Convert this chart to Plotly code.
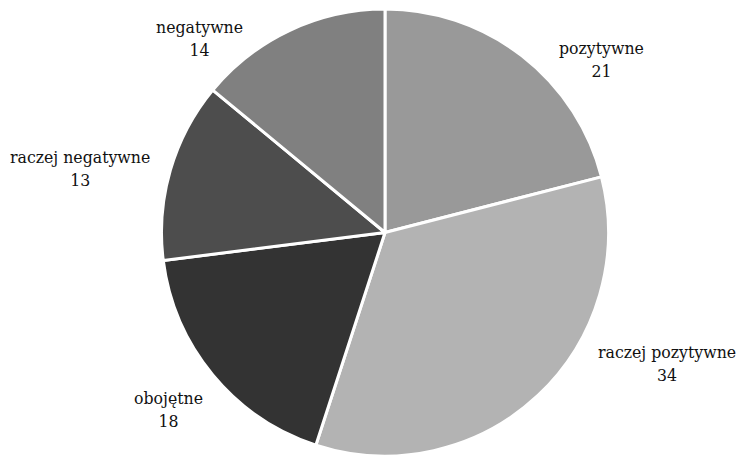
import plotly.graph_objects as go

# Survey answers, drawn clockwise from 12 o'clock
categories = ["pozytywne", "raczej pozytywne", "obojętne", "raczej negatywne", "negatywne"]
values = [21, 34, 18, 13, 14]

# Slice fills (grey scale)
colors = ["#999999", "#b3b3b3", "#333333", "#4d4d4d", "#808080"]

# Label block centres in pixels (x, y from top-left)
label_pos = [(601, 60), (667, 363), (168, 409), (80, 168), (199, 39)]

W, H = 738, 456

fig = go.Figure(
    go.Pie(
        labels=categories,
        values=values,
        sort=False,
        direction="clockwise",
        rotation=0,
        marker=dict(colors=colors, line=dict(color="white", width=3)),
        textinfo="none",
        hoverinfo="label+value",
        showlegend=False,
        domain=dict(x=[(385 - 224) / W, (385 + 224) / W], y=[0, 1 - 9 / H]),
    )
)

for name, val, (px, py) in zip(categories, values, label_pos):
    fig.add_annotation(
        x=px / W,
        y=1 - py / H,
        xref="paper",
        yref="paper",
        xanchor="center",
        yanchor="middle",
        align="center",
        showarrow=False,
        text=f"{name}<br>{val}",
        font=dict(family="DejaVu Serif Condensed", size=17.5, color="#111111"),
    )

fig.update_layout(
    width=W,
    height=H,
    margin=dict(l=0, r=0, t=0, b=0),
    paper_bgcolor="white",
    plot_bgcolor="white",
)

fig.write_html("out.html")
